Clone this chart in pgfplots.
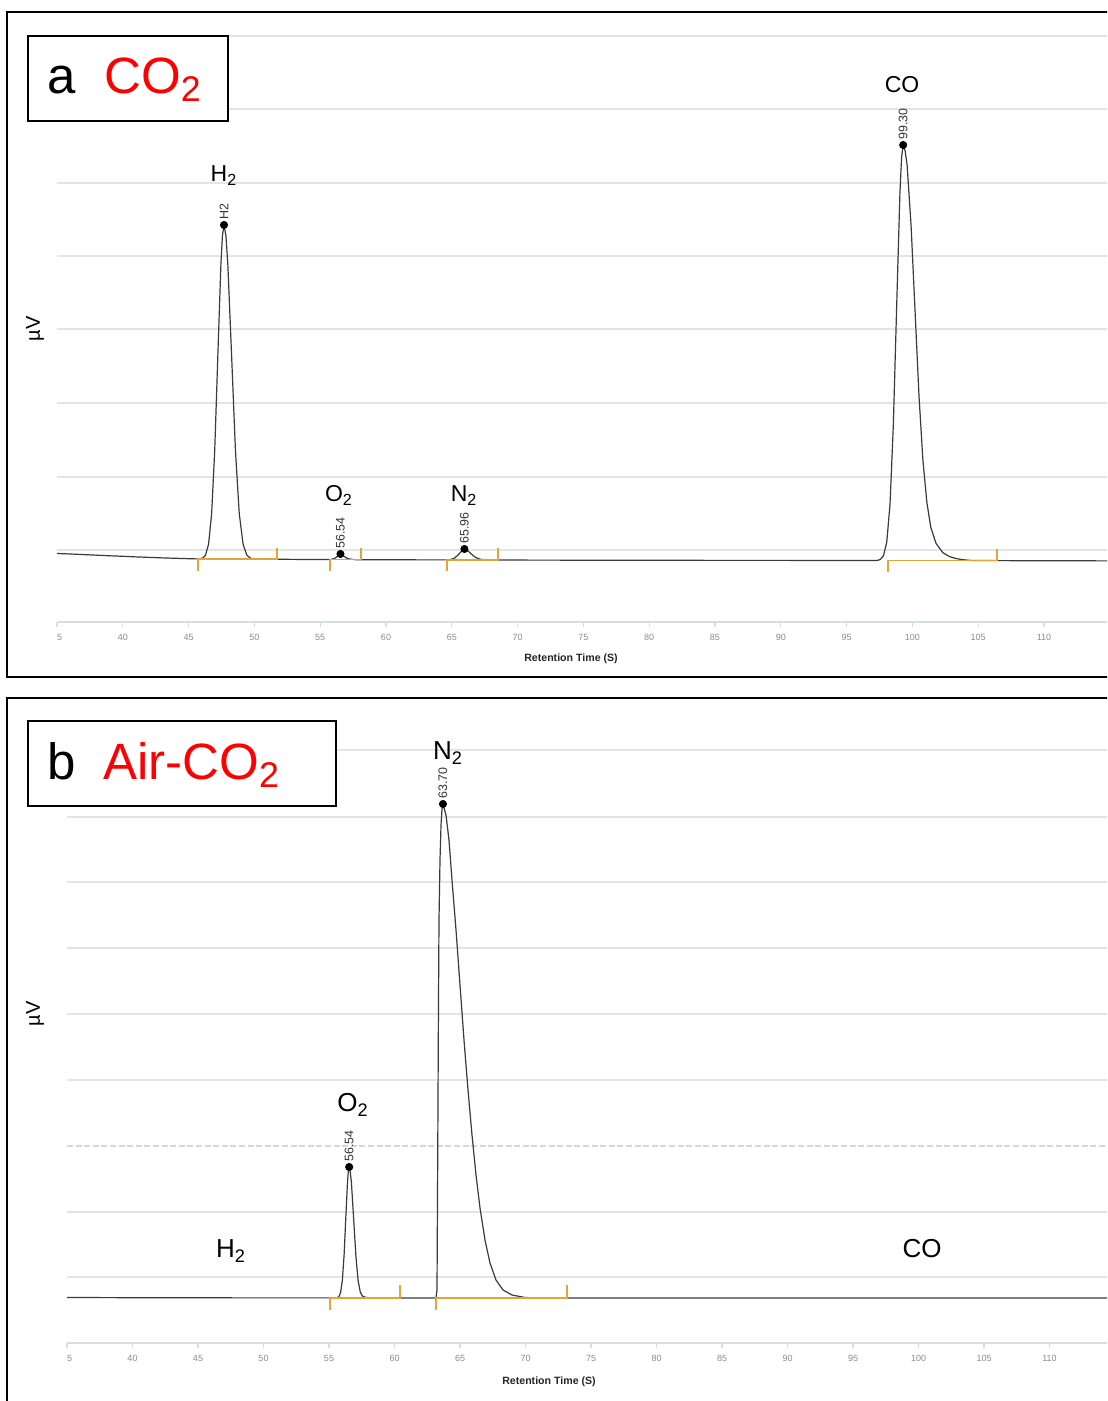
\documentclass[border=0pt]{standalone}
\usepackage{fontspec}
\setmainfont{Liberation Sans}
\usepackage{pgfplots}
\pgfplotsset{compat=1.18}
\definecolor{gridc}{HTML}{E4E4E4}
\definecolor{gridd}{HTML}{D6D6D6}
\definecolor{axc}{HTML}{D3DEE6}
\definecolor{intc}{HTML}{E3A537}
\definecolor{tickc}{HTML}{8C8C8C}
\definecolor{labred}{HTML}{FF0000}
\definecolor{trace}{HTML}{3A3A3A}
\pgfplotsset{chrom/.style={
  scale only axis, clip=false,
  xmin=35, xmax=115, ymin=0,
  axis x line=bottom, axis y line=left,
  x axis line style={draw=axc, line width=0.8pt, -},
  y axis line style={draw=none},
  xtick={35,40,...,115},
  xticklabels={\phantom{3}5,40,45,50,55,60,65,70,75,80,85,90,95,100,105,110,{}},
  tick align=outside, major tick length=2.5pt,
  xtick style={draw=axc, line width=0.6pt},
  ytick style={draw=none}, yticklabels={},
  ymajorgrids, grid style={draw=gridc, line width=0.7pt},
  xticklabel style={font=\fontsize{4.5}{5}\selectfont, text=tickc},
  /pgf/number format/assume math mode=true,
},
integ/.style={intc, line width=0.9pt, mark=none},
tr/.style={trace, line width=0.6pt, mark=none},
pk/.style={only marks, mark=*, mark size=1.8pt, black},
}
\tikzset{vlab/.style={rotate=90, anchor=west, inner sep=0pt, font=\fontsize{6.2}{7}\selectfont, text=black!80},
gas/.style={anchor=base, inner sep=0pt}}
\begin{document}
\begin{tikzpicture}[x=0.5pt,y=0.5pt]
\path[use as bounding box] (0,0) rectangle (1107,1401);
\clip (0,0) rectangle (1107,1401);
\fill[white] (0,0) rectangle (1107,1401);

% ---------------- Panel a ----------------
\begin{axis}[chrom, at={(28.5pt,389.5pt)}, anchor=south west,
  width=526.4pt, height=305pt, ymax=610,
  ytick={72,145,219,293,366,439,513,586}]
\addplot[tr] coordinates {
(35,68.5) (36,68) (37,67.4) (38,66.8) (39,66.2) (40,65.7) (41,65.1) (42,64.6) (43,64.1) (44,63.7) (45,63.3) (45.6,63.1)
(46.045,63.7) (46.28,66.7) (46.515,77.7) (46.75,108.2) (46.985,171.4) (47.22,265.6) (47.455,357.8) (47.57,386.3) (47.69,397)
(47.84,386) (47.98,357.8) (48.27,265.6) (48.56,171.4) (48.85,108.2) (49.14,77.7) (49.43,66.7) (49.72,63.7) (50.1,63)
(51,62.8) (52,62.7) (53,62.6) (54,62.5) (55,62.4) (55.8,62.4) (56.1,63.6) (56.3,65.6) (56.54,68) (56.8,65.8) (57.0,64.0)
(57.3,62.8) (57.7,62.3) (59,62.2) (61,62.2) (63,62.1) (64.8,62.1) (65.2,63.8) (65.5,67.3) (65.75,71) (65.96,73) (66.2,71.4)
(66.5,67.8) (66.8,64.6) (67.2,62.6) (67.8,62) (70,61.9) (75,61.8) (80,61.8) (85,61.6) (90,61.6) (95,61.5) (97.3,61.5)
(97.55,62.4) (97.8,66.1) (98.05,79.7) (98.3,117.7) (98.55,196.4) (98.8,313.5) (99.05,428.2) (99.18,465.2) (99.3,477)
(99.45,471) (99.6,456.5) (99.9,396.5) (100.2,311.5) (100.5,226.5) (100.8,161.5) (101.1,119.5) (101.4,94.5) (101.8,78.5)
(102.3,69.5) (102.8,65.5) (103.3,63.5) (103.8,62.3) (104.5,61.5) (108,61.3) (112,61.2) (115,61.1)
};
\addplot[integ] coordinates {(45.7,51) (45.7,62.8) (51.72,62.8) (51.72,74)};
\addplot[integ] coordinates {(55.74,51) (55.74,62.4) (58.1,62.4) (58.1,74)};
\addplot[integ] coordinates {(64.64,51) (64.64,62) (68.5,62) (68.5,74)};
\addplot[integ] coordinates {(98.15,50) (98.15,61.5) (106.43,61.5) (106.43,73)};
\addplot[pk] coordinates {(47.69,397) (56.54,68) (65.96,73) (99.3,477)};
\node[vlab] at (axis cs:47.69,402) {H2};
\node[vlab] at (axis cs:56.54,73) {56.54};
\node[vlab] at (axis cs:65.96,78) {65.96};
\node[vlab] at (axis cs:99.3,482) {99.30};
\node[gas, font=\fontsize{11.5}{13}\selectfont] at (axis cs:47.69,440) {H\textsubscript{2}};
\node[gas, font=\fontsize{11.5}{13}\selectfont] at (axis cs:56.43,120) {O\textsubscript{2}};
\node[gas, font=\fontsize{11.5}{13}\selectfont] at (axis cs:65.93,120) {N\textsubscript{2}};
\node[gas, font=\fontsize{11.5}{13}\selectfont] at (axis cs:99.21,529) {CO};
\end{axis}

% ---------------- Panel b ----------------
\begin{axis}[chrom, at={(33.5pt,29pt)}, anchor=south west,
  width=524pt, height=322.5pt, ymax=645,
  ytick={66,131,263,329,395,461,526,593},
  extra y ticks={197}, extra y tick labels={},
  extra y tick style={grid style={draw=gridd, line width=0.7pt, dash pattern=on 3pt off 1.3pt}}]
\addplot[tr] coordinates {
(35,45.5) (40,45.3) (45,45.2) (50,45.1) (55.5,45.1) (55.63,45.3) (55.76,46.45) (55.89,50.75) (56.02,62.7) (56.15,87.5)
(56.28,124.5) (56.41,160.6) (56.48,172.5) (56.54,176) (56.62,171.5) (56.71,160.6) (56.88,124.5) (57.05,87.5) (57.22,62.7)
(57.39,50.75) (57.56,46.8) (57.8,45.6) (58.2,45.1) (60,45) (63.168,45) (63.244,53) (63.282,143) (63.321,243) (63.359,343)
(63.397,423) (63.473,483) (63.550,518) (63.626,534) (63.702,539) (63.931,528) (64.160,503) (64.389,463) (64.695,413)
(65.000,358) (65.305,303) (65.611,253) (65.916,208) (66.221,168) (66.527,135) (66.908,103) (67.290,80) (67.748,63)
(68.282,53) (68.969,48) (69.962,45.5) (71.107,45) (80,45) (90,45) (100,45) (110,45) (115,45)
};
\addplot[integ] coordinates {(55.08,33) (55.08,45) (60.42,45) (60.42,58)};
\addplot[integ] coordinates {(63.17,33) (63.17,45) (73.17,45) (73.17,58)};
\addplot[pk] coordinates {(56.54,176) (63.70,539)};
\node[vlab] at (axis cs:56.54,181) {56.54};
\node[vlab] at (axis cs:63.70,544) {63.70};
\node[gas, font=\fontsize{13}{15}\selectfont] at (axis cs:47.52,85) {H\textsubscript{2}};
\node[gas, font=\fontsize{13}{15}\selectfont] at (axis cs:56.83,231) {O\textsubscript{2}};
\node[gas, font=\fontsize{13}{15}\selectfont] at (axis cs:64.08,583) {N\textsubscript{2}};
\node[gas, font=\fontsize{13}{15}\selectfont] at (axis cs:100.27,85) {CO};
\end{axis}

% ---------------- decorations ----------------
\draw[black, line width=1pt] (1120,724) -- (7,724) -- (7,1389) -- (1120,1389);
\draw[black, line width=1pt] (7,-10) -- (7,703) -- (1120,703);

\draw[black, line width=1.3pt, fill=white] (28,1280) rectangle (228,1365);
\node[anchor=base west, inner sep=0pt, font=\fontsize{25.5}{28}\selectfont] at (47,1307) {a};
\node[anchor=base west, inner sep=0pt, font=\fontsize{25.5}{28}\selectfont, text=labred] at (104,1307) {CO\textsubscript{2}};

\draw[black, line width=1.3pt, fill=white] (28,595) rectangle (336,680);
\node[anchor=base west, inner sep=0pt, font=\fontsize{25.5}{28}\selectfont] at (47,621) {b};
\node[anchor=base west, inner sep=0pt, font=\fontsize{25.5}{28}\selectfont, text=labred] at (103,621) {Air-CO\textsubscript{2}};

\node[rotate=90, font=\fontsize{10}{12}\selectfont] at (35,1072) {µV};
\node[rotate=90, font=\fontsize{10}{12}\selectfont] at (35,387) {µV};

\node[font=\bfseries\fontsize{5.3}{6}\selectfont, text=black!85] at (571,742) {Retention Time (S)};
\node[font=\bfseries\fontsize{5.3}{6}\selectfont, text=black!85] at (549,19) {Retention Time (S)};
\end{tikzpicture}
\end{document}
